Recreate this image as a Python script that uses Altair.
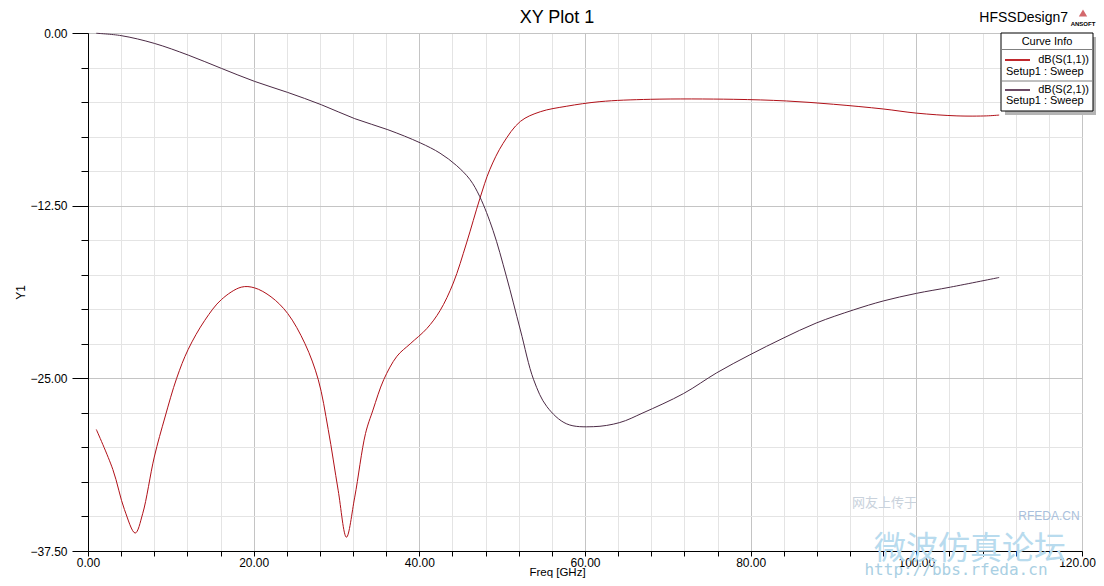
import altair as alt
import pandas as pd

# ---- data ----
s11_freq = [1.0, 3.0, 4.4, 5.7, 6.6, 8.0, 9.3, 10.7, 12.1, 14.1, 16.1, 18.5, 20.1, 22.1, 24.1,
            26.2, 27.8, 29.0, 30.2, 31.2, 32.2, 33.5, 34.4, 35.7, 37.3, 38.9, 40.9, 42.5, 44.1,
            45.7, 47.3, 48.5, 50.1, 52.2, 54.6, 57.8, 61.8, 67.9, 77.9, 84.3, 90.0, 96.0, 100.0,
            104.9, 108.5, 110.0]
s11_db = [-28.7, -31.6, -34.5, -36.2, -34.8, -30.7, -27.8, -25.0, -22.9, -20.8, -19.3, -18.4,
          -18.45, -19.1, -20.3, -22.5, -25.1, -28.7, -33.1, -36.5, -33.6, -29.0, -27.3, -25.1,
          -23.4, -22.5, -21.4, -20.1, -18.1, -15.2, -12.0, -9.9, -8.0, -6.4, -5.7, -5.3, -4.97,
          -4.80, -4.80, -4.92, -5.16, -5.5, -5.8, -6.0, -6.0, -5.94]

s21_freq = [1.0, 4.0, 8.0, 12.1, 16.1, 20.1, 24.1, 28.2, 32.2, 36.2, 40.1, 42.5, 44.5, 46.1,
            47.3, 48.9, 50.5, 52.2, 53.8, 55.4, 57.8, 61.0, 64.2, 67.0, 71.9, 75.9, 79.9, 83.9,
            87.9, 92.4, 96.0, 100.0, 104.1, 110.0]
s21_db = [-0.02, -0.19, -0.75, -1.6, -2.56, -3.5, -4.3, -5.2, -6.2, -7.0, -7.95, -8.7, -9.6,
          -10.6, -11.85, -14.3, -17.6, -21.5, -25.1, -27.05, -28.3, -28.5, -28.2, -27.5, -26.1,
          -24.6, -23.3, -22.1, -21.0, -20.05, -19.4, -18.85, -18.4, -17.7]

series_names = ["dB(S(1,1))", "dB(S(2,1))"]
series_colors = ["#b01018", "#4b2a45"]
legend_colors = ["#c0282d", "#6c4a65"]
sweep_label = "Setup1 : Sweep"

x_ticks = list(range(0, 121, 4))
y_ticks = [-37.5 + 2.5 * i for i in range(16)]

df = pd.concat([
    pd.DataFrame({"freq": s11_freq, "db": s11_db, "curve": series_names[0]}),
    pd.DataFrame({"freq": s21_freq, "db": s21_db, "curve": series_names[1]}),
], ignore_index=True)

FONT = "Liberation Sans"
W, H = 994, 518

x_axis = alt.Axis(
    title="Freq [GHz]", values=x_ticks,
    labelExpr="datum.value % 20 === 0 ? format(datum.value, '.2f') : ''",
    tickSize=5, labelPadding=1, labelFlush=False,
    labelOffset={"condition": {"test": "datum.value === 120", "value": -5}, "value": 0},
    gridColor={"condition": {"test": "datum.value % 20 === 0", "value": "#c4c4c4"}, "value": "#e4e4e4"},
    titleX=469, titleY=26, titleBaseline="bottom", titleAlign="center", titleFontSize=11.5,
)
y_axis = alt.Axis(
    title="Y1", values=y_ticks,
    labelExpr="datum.value % 12.5 === 0 ? format(datum.value, '.2f') : ''",
    tickSize={"condition": {"test": "datum.value % 12.5 === 0", "value": 16}, "value": 7},
    labelPadding=5, labelFlush=False, titlePadding=2,
    gridColor={"condition": {"test": "datum.value % 12.5 === 0", "value": "#c4c4c4"}, "value": "#e4e4e4"},
)

lines = alt.Chart(df).mark_line(strokeWidth=1, interpolate="catmull-rom").encode(
    x=alt.X("freq:Q", scale=alt.Scale(domain=[0, 120], nice=False, zero=False), axis=x_axis),
    y=alt.Y("db:Q", scale=alt.Scale(domain=[-37.5, 0], nice=False, zero=False), axis=y_axis),
    color=alt.Color("curve:N", scale=alt.Scale(domain=series_names, range=series_colors), legend=None),
)

one = pd.DataFrame({"k": [0]})


def txt(text, x, y, size, align="center", color="black", font=FONT, **kw):
    return alt.Chart(pd.DataFrame({"t": [text]})).mark_text(
        align=align, baseline="middle", fontSize=size, font=font, color=color, **kw
    ).encode(x=alt.value(x), y=alt.value(y), text="t:N")


def rect(x, x2, y, y2, **kw):
    return alt.Chart(one).mark_rect(**kw).encode(
        x=alt.value(x), x2=alt.value(x2), y=alt.value(y), y2=alt.value(y2))


def hrule(x, x2, y, **kw):
    return alt.Chart(one).mark_rule(**kw).encode(x=alt.value(x), x2=alt.value(x2), y=alt.value(y))


layers = [lines]

# watermark (faint)
layers += [
    txt("网友上传于", 764, 470, 13, align="left", color="#c9d2dc", font="Noto Sans CJK SC"),
    txt("RFEDA.CN", 961, 483, 12, color="#a9bfdc"),
    txt("微波仿真论坛", 882, 516, 32, color="#b8dbee", font="Noto Sans CJK SC"),
    txt("http://bbs.rfeda.cn", 868, 537, 16, color="#a9cfe3", font="DejaVu Sans Mono"),
]

# legend box ("Curve Info")
layers += [
    rect(917, 1009, 4, 82, fill="#b4b4b4"),
    rect(913, 1005, 0, 78, fill="white", stroke="black", strokeWidth=1),
    txt("Curve Info", 959, 9, 11),
    hrule(913, 1005, 16.5, color="#808080", strokeWidth=1),
    hrule(917, 942, 27, color=legend_colors[0], strokeWidth=2),
    txt(series_names[0], 1001, 27, 11, align="right"),
    txt(sweep_label, 918, 39, 11, align="left"),
    hrule(913, 1005, 48, color="#808080", strokeWidth=1),
    hrule(917, 942, 57, color=legend_colors[1], strokeWidth=2),
    txt(series_names[1], 1001, 57, 11, align="right"),
    txt(sweep_label, 918, 68, 11, align="left"),
]

# header texts: plot title, design name, logo
layers += [
    txt("XY Plot 1", 469, -15, 18),
    txt("HFSSDesign7", 980, -15, 14, align="right"),
    alt.Chart(one).mark_point(shape="triangle-up", filled=True, color="#c0282d", size=70).encode(
        x=alt.value(995), y=alt.value(-20)),
    txt("ANSOFT", 995, -9, 6, fontWeight="bold"),
]

chart = alt.layer(*layers).properties(
    width=W, height=H,
    autosize=alt.AutoSizeParams(type="none"),
    padding={"left": 80, "top": 25, "right": 14, "bottom": 27},
).configure_view(stroke="black", strokeWidth=1).configure_axis(
    labelFont=FONT, labelFontSize=12, labelColor="black",
    titleFont=FONT, titleFontSize=12, titleFontWeight="normal", titleColor="black",
    domainColor="black", tickColor="black", gridWidth=1,
)

chart.save("out.html", embed_options={"renderer": "svg", "actions": False})
